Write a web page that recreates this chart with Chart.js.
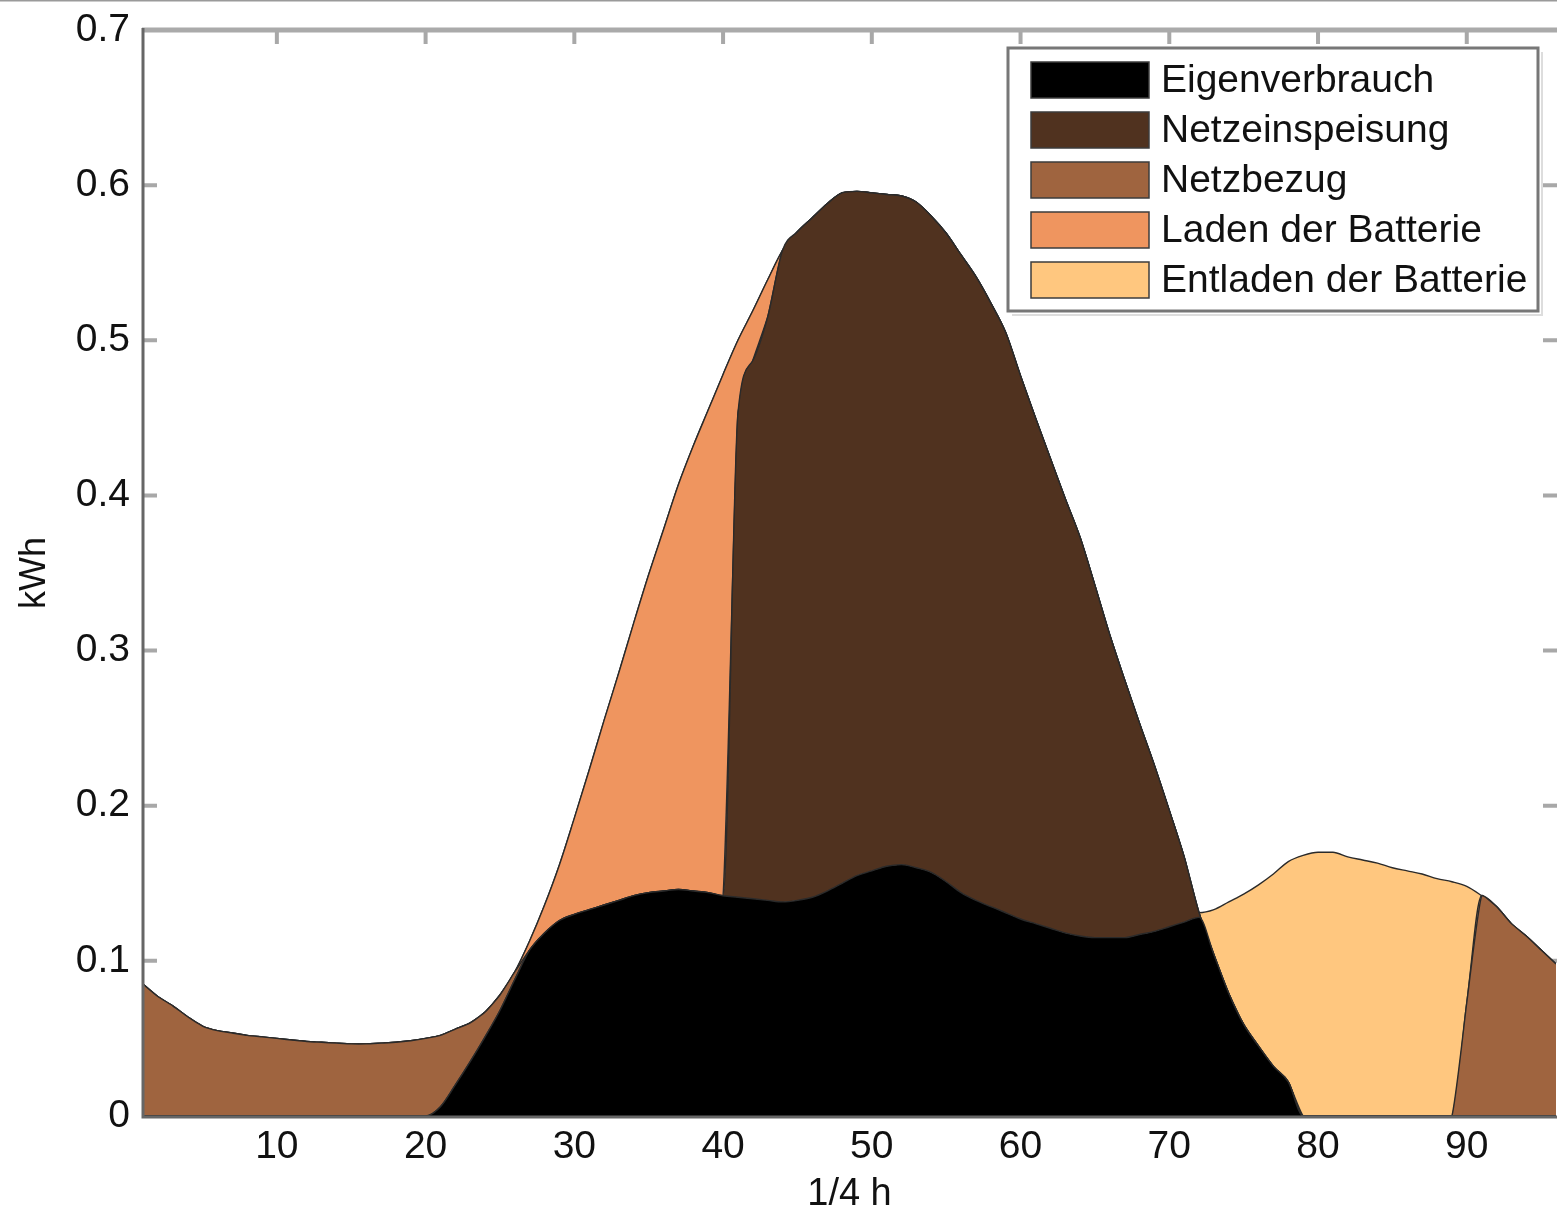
<!DOCTYPE html>
<html>
<head>
<meta charset="utf-8">
<script src="https://cdn.jsdelivr.net/npm/chart.js@4.4.0/dist/chart.umd.min.js"></script>
<style>
html,body{margin:0;padding:0;background:#ffffff;}
#wrap{width:1557px;height:1210px;position:relative;overflow:hidden;}
canvas{display:block;}
</style>
</head>
<body>
<div id="wrap"><canvas id="c" width="1557" height="1210"></canvas></div>
<script>
// ---------- data ----------
const quarterHours = [
  1,2,3,4,5,6,7,8,9,10,11,12,
  13,14,15,16,17,18,19,20,21,22,23,24,
  25,26,27,28,29,30,31,32,33,34,35,36,
  37,38,39,40,41,42,43,44,45,46,47,48,
  49,50,51,52,53,54,55,56,57,58,59,60,
  61,62,63,64,65,66,67,68,69,70,71,72,
  73,74,75,76,77,78,79,80,81,82,83,84,
  85,86,87,88,89,90,91,92,93,94,95,96
];
const xTickValues = [10,20,30,40,50,60,70,80,90];
const yTickValues = [0,0.1,0.2,0.3,0.4,0.5,0.6,0.7];

const eigenverbrauch = [
  0,0,0,0,0,0,0,0,0,0,0,0,
  0,0,0,0,0,0,0,0,0.006,0.020,0.035,0.051,
  0.068,0.088,0.107,0.118,0.126,0.130,0.133,0.136,0.139,0.142,0.144,0.145,
  0.146,0.145,0.144,0.142,0.141,0.140,0.139,0.138,0.139,0.141,0.145,0.150,
  0.155,0.158,0.161,0.162,0.160,0.157,0.151,0.144,0.139,0.135,0.131,0.127,
  0.124,0.121,0.118,0.116,0.115,0.115,0.115,0.117,0.119,0.122,0.125,0.128,
  0.104,0.079,0.059,0.045,0.032,0.022,0,0,0,0,0,0,
  0,0,0,0,0,0,0,0,0,0,0,0
];
const netzeinspeisung = [
  0,0,0,0,0,0,0,0,0,0,0,0,
  0,0,0,0,0,0,0,0,0,0,0,0,
  0,0,0,0,0,0,0,0,0,0,0,0,
  0,0,0,0,0.312,0.347,0.376,0.420,0.431,0.438,0.443,0.445,
  0.441,0.437,0.433,0.431,0.429,0.423,0.418,0.411,0.402,0.389,0.374,0.350,
  0.326,0.303,0.280,0.257,0.227,0.195,0.166,0.136,0.107,0.075,0.042,0.003,
  0,0,0,0,0,0,0,0,0,0,0,0,
  0,0,0,0,0,0,0,0,0,0,0,0
];
const netzbezug = [
  0.085,0.077,0.071,0.064,0.058,0.055,0.0535,0.052,0.051,0.050,0.049,0.048,
  0.0475,0.047,0.0465,0.0465,0.047,0.0475,0.0485,0.050,0.046,0.036,0.025,0.016,
  0.010,0.005,0,0,0,0,0,0,0,0,0,0,
  0,0,0,0,0,0,0,0,0,0,0,0,
  0,0,0,0,0,0,0,0,0,0,0,0,
  0,0,0,0,0,0,0,0,0,0,0,0,
  0,0,0,0,0,0,0,0,0,0,0,0,
  0,0,0,0,0,0.073,0.142,0.135,0.124,0.116,0.107,0.098
];
const ladenBatterie = [
  0,0,0,0,0,0,0,0,0,0,0,0,
  0,0,0,0,0,0,0,0,0,0,0,0,
  0,0,0.006,0.018,0.036,0.062,0.090,0.119,0.147,0.176,0.205,0.233,
  0.261,0.287,0.311,0.336,0.047,0.032,0.024,0,0,0,0,0,
  0,0,0,0,0,0,0,0,0,0,0,0,
  0,0,0,0,0,0,0,0,0,0,0,0,
  0,0,0,0,0,0,0,0,0,0,0,0,
  0,0,0,0,0,0,0,0,0,0,0,0
];
const entladenBatterie = [
  0,0,0,0,0,0,0,0,0,0,0,0,
  0,0,0,0,0,0,0,0,0,0,0,0,
  0,0,0,0,0,0,0,0,0,0,0,0,
  0,0,0,0,0,0,0,0,0,0,0,0,
  0,0,0,0,0,0,0,0,0,0,0,0,
  0,0,0,0,0,0,0,0,0,0,0,0,
  0.029,0.059,0.084,0.104,0.124,0.142,0.168,0.170,0.170,0.167,0.165,0.163,
  0.160,0.158,0.156,0.153,0.151,0.075,0,0,0,0,0,0
];

const seriesNames = ['Eigenverbrauch','Netzeinspeisung','Netzbezug','Laden der Batterie','Entladen der Batterie'];
const seriesColors = ['#000000','#50321f','#9f643f','#ef955f','#ffc77f'];
const seriesData = [eigenverbrauch, netzeinspeisung, netzbezug, ladenBatterie, entladenBatterie];

// ---------- styling ----------
const FONT = '"Liberation Sans", Arial, Helvetica, sans-serif';
Chart.defaults.font.family = FONT;
Chart.defaults.color = '#111111';

const matlabFrame = {
  id: 'matlabFrame',
  beforeDatasetsDraw(chart) {
    const {ctx, chartArea: a, scales: {x, y}} = chart;
    ctx.save();
    ctx.strokeStyle = '#a8a8a8';
    ctx.lineWidth = 4;
    ctx.beginPath();
    xTickValues.forEach(v => {
      const px = x.getPixelForValue(v);
      ctx.moveTo(px, a.top); ctx.lineTo(px, a.top + 14);
    });
    yTickValues.forEach(v => {
      if (v <= 0 || v >= 0.7) return;
      const py = y.getPixelForValue(v);
      ctx.moveTo(a.left, py); ctx.lineTo(a.left + 14, py);
      ctx.moveTo(a.right + 1, py); ctx.lineTo(a.right - 13, py);
    });
    ctx.stroke();
    ctx.restore();
  },
  afterDatasetsDraw(chart) {
    const {ctx, chartArea: a, width} = chart;
    ctx.save();
    ctx.strokeStyle = '#9a9a9a'; ctx.lineWidth = 1.5;
    ctx.beginPath(); ctx.moveTo(0, 0.75); ctx.lineTo(width, 0.75); ctx.stroke();
    ctx.strokeStyle = '#aaaaaa'; ctx.lineWidth = 5;
    ctx.beginPath(); ctx.moveTo(a.left - 1, a.top); ctx.lineTo(width, a.top); ctx.stroke();
    ctx.strokeStyle = '#666666'; ctx.lineWidth = 3;
    ctx.beginPath();
    ctx.moveTo(a.left, a.top - 2); ctx.lineTo(a.left, a.bottom + 2);
    ctx.moveTo(a.left - 1.5, a.bottom + 1); ctx.lineTo(width, a.bottom + 1);
    ctx.stroke();
    ctx.restore();
  },
  afterDraw(chart) {
    const {ctx, chartArea: a} = chart;
    const right = a.right - 18, top = a.top + 18;
    const w = 530, h = 263, left = right - w;
    ctx.save();
    ctx.strokeStyle = '#dddddd'; ctx.lineWidth = 2;
    ctx.beginPath();
    ctx.moveTo(right + 4, top + 4); ctx.lineTo(right + 4, top + h + 4); ctx.lineTo(left + 4, top + h + 4);
    ctx.stroke();
    ctx.fillStyle = '#ffffff';
    ctx.fillRect(left, top, w, h);
    ctx.strokeStyle = '#777777'; ctx.lineWidth = 3;
    ctx.strokeRect(left, top, w, h);
    ctx.font = '39px ' + FONT;
    ctx.textBaseline = 'middle';
    ctx.textAlign = 'left';
    seriesNames.forEach((name, i) => {
      const cy = top + 32 + i * 50;
      ctx.fillStyle = seriesColors[i];
      ctx.fillRect(left + 23, cy - 18, 118, 36);
      ctx.strokeStyle = '#3c3c3c'; ctx.lineWidth = 1.5;
      ctx.strokeRect(left + 23, cy - 18, 118, 36);
      ctx.fillStyle = '#111111';
      ctx.fillText(name, left + 153, cy + 1);
    });
    ctx.restore();
  }
};

const datasets = seriesData.map((arr, i) => ({
  label: seriesNames[i],
  data: arr,
  backgroundColor: seriesColors[i],
  borderColor: '#2a2a2a',
  borderWidth: 1.4,
  fill: i === 0 ? 'origin' : '-1',
  pointRadius: 0,
  pointHoverRadius: 0,
  cubicInterpolationMode: i === 2 ? 'default' : 'monotone',
  tension: i === 2 ? 0.15 : 0
}));

new Chart(document.getElementById('c'), {
  type: 'line',
  data: { labels: quarterHours, datasets },
  options: {
    responsive: false,
    animation: false,
    devicePixelRatio: 1,
    layout: { padding: { top: 30, right: 1, left: 0, bottom: 0 } },
    plugins: { legend: { display: false }, tooltip: { enabled: false } },
    elements: { line: { borderJoinStyle: 'round' } },
    scales: {
      x: {
        type: 'linear',
        min: 1, max: 96,
        grid: { display: false, drawTicks: false },
        border: { display: false },
        afterBuildTicks: s => { s.ticks = xTickValues.map(v => ({ value: v })); },
        afterFit: s => { s.height = 94; s.paddingLeft = 0; s.paddingRight = 0; },
        ticks: { autoSkip: false, maxRotation: 0, padding: 8, color: '#111', font: { size: 39 } },
        title: { display: true, text: '1/4 h', color: '#111', font: { size: 38, lineHeight: 0.8 }, padding: { top: 0, bottom: 0 } }
      },
      y: {
        type: 'linear',
        stacked: true,
        min: 0, max: 0.7,
        grid: { display: false, drawTicks: false },
        border: { display: false },
        afterBuildTicks: s => { s.ticks = yTickValues.map(v => ({ value: v })); },
        afterFit: s => { s.width = 143; s.paddingTop = 0; s.paddingBottom = 0; },
        ticks: { padding: 13, color: '#111', font: { size: 39 },
                 callback: v => (v === 0 ? '0' : v.toFixed(1)) },
        title: { display: true, text: 'kWh', color: '#111', font: { size: 36, lineHeight: 1.2 }, padding: { top: 13, bottom: 0 } }
      }
    }
  },
  plugins: [matlabFrame]
});
</script>
</body>
</html>
